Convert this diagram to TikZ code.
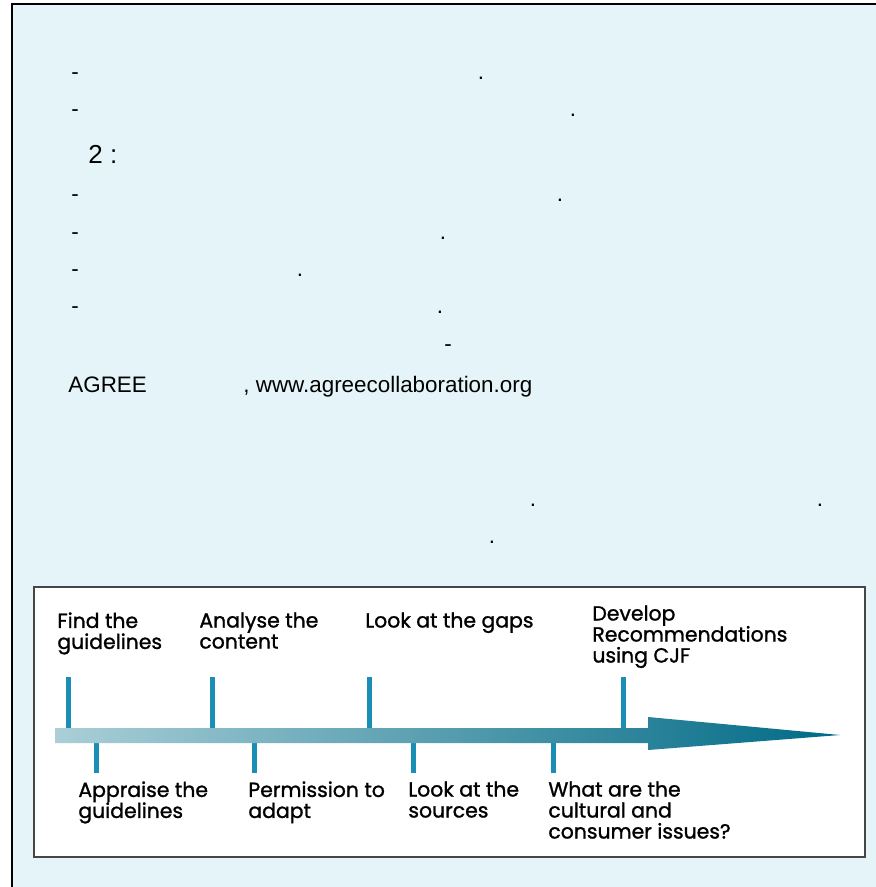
\documentclass[tikz,border=0pt]{standalone}
\usepackage{fontspec}
\setmainfont{Liberation Sans}
\newfontfamily\stagefont[FakeBold=1.2]{Poppins}
\definecolor{bgblue}{RGB}{229,244,249}
\definecolor{tickblue}{RGB}{27,142,182}
\definecolor{arrowlight}{RGB}{170,207,215}
\definecolor{arrowmid}{RGB}{82,150,168}
\definecolor{arrowdark}{RGB}{0,106,134}
\definecolor{boxgray}{RGB}{70,70,70}

\begin{document}
\begin{tikzpicture}[x=0.5pt,y=-0.5pt,
  txt/.style={anchor=base,inner sep=0pt,font=\fontsize{11.2}{13}\selectfont},
  stagetxt/.style={anchor=north west,inner sep=0pt,align=left,font=\stagefont\fontsize{10.2}{10.5}\selectfont},
  stagetick/.style={draw=tickblue,line width=2.5pt}]
  \useasboundingbox (0,0) rectangle (876,887);
  % page background
  \fill[bgblue] (12,4) rectangle (876,887);
  \draw[line width=1pt] (12,887) -- (12,4) -- (876,4);
  % text lines
  \node[txt] (dash1) at (75,80) {-};
  \node[txt] (dot1) at (481,80) {.};
  \node[txt] (dash2) at (75,117) {-};
  \node[txt] (dot2) at (573,117) {.};
  \node[txt,anchor=base west,font=\fontsize{13}{15}\selectfont] (fig2) at (88,164) {2 :};
  \node[txt] (dash3) at (75,202) {-};
  \node[txt] (dot3) at (560,202) {.};
  \node[txt] (dash4) at (75,240) {-};
  \node[txt] (dot4) at (443,240) {.};
  \node[txt] (dash5) at (75,277) {-};
  \node[txt] (dot5) at (300,277) {.};
  \node[txt] (dash6) at (75,314) {-};
  \node[txt] (dot6) at (440,314) {.};
  \node[txt] (dash7) at (448,351) {-};
  \node[txt,anchor=base west] (agree) at (68,392) {AGREE};
  \node[txt,anchor=base west] (site) at (243,392) {, www.agreecollaboration.org};
  \node[txt] (dot7) at (533,506) {.};
  \node[txt] (dot8) at (820,506) {.};
  \node[txt] (dot9) at (492,543) {.};
  % timeline box
  \draw[draw=boxgray,fill=white,line width=0.9pt] (34,587) rectangle (865,857);
  \coordinate (findaxis) at (68,735);     \coordinate (findend) at (68,677);
  \coordinate (analyseaxis) at (212,735); \coordinate (analyseend) at (212,677);
  \coordinate (gapsaxis) at (369,735);    \coordinate (gapsend) at (369,677);
  \coordinate (developaxis) at (623,735); \coordinate (developend) at (623,677);
  \coordinate (appraiseaxis) at (96,735);    \coordinate (appraiseend) at (96,773);
  \coordinate (permissionaxis) at (254,735); \coordinate (permissionend) at (254,773);
  \coordinate (sourcesaxis) at (413,735);    \coordinate (sourcesend) at (413,773);
  \coordinate (culturalaxis) at (553,735);   \coordinate (culturalend) at (553,773);
  \draw[stagetick] (findaxis) -- (findend);
  \draw[stagetick] (analyseaxis) -- (analyseend);
  \draw[stagetick] (gapsaxis) -- (gapsend);
  \draw[stagetick] (developaxis) -- (developend);
  \draw[stagetick] (appraiseaxis) -- (appraiseend);
  \draw[stagetick] (permissionaxis) -- (permissionend);
  \draw[stagetick] (sourcesaxis) -- (sourcesend);
  \draw[stagetick] (culturalaxis) -- (culturalend);
  \shade[left color=arrowlight,middle color=arrowmid,right color=arrowdark]
    (55,728) -- (648,728) -- (648,717) -- (840,735) -- (648,750) -- (648,743) -- (55,743) -- cycle;
  \node[stagetxt] (find) at (57,612) {Find the\\guidelines};
  \node[stagetxt] (analyse) at (199,612) {Analyse the\\content};
  \node[stagetxt] (gaps) at (365,612) {Look at the gaps};
  \node[stagetxt] (develop) at (592,605) {Develop\\Recommendations\\using CJF};
  \node[stagetxt] (appraise) at (78,781) {Appraise the\\guidelines};
  \node[stagetxt] (permission) at (248,781) {Permission to\\adapt};
  \node[stagetxt] (sources) at (408,781) {Look at the\\sources};
  \node[stagetxt] (cultural) at (548,781) {What are the\\cultural and\\consumer issues?};
\end{tikzpicture}
\end{document}
